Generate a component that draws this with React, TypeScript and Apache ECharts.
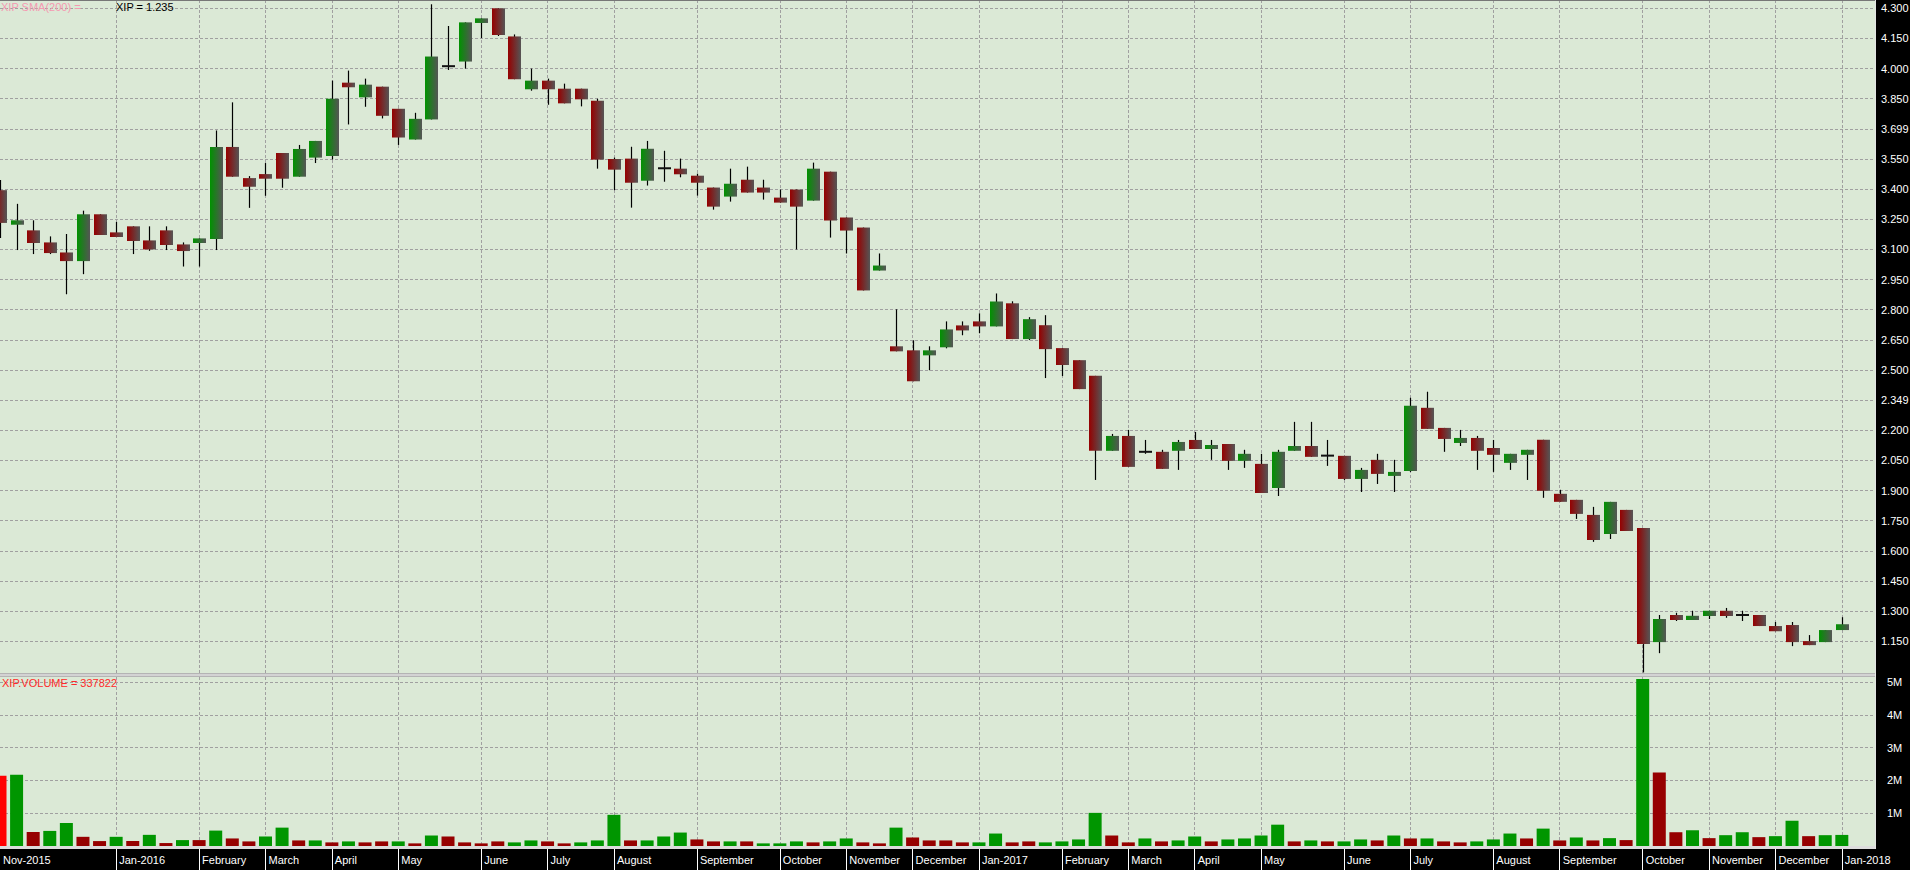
import React, { useEffect, useRef } from 'react';
import * as echarts from 'echarts';

// ---- data (weekly bars, XIP) ----
const slotCount = 114; // 112 weekly bars + 2 empty slots on the right
const opens = [
  3.395, 3.223, 3.195, 3.135, 3.085, 3.042, 3.275, 3.185, 3.215, 3.145,
  3.195, 3.125, 3.132, 3.152, 3.610, 3.455, 3.475, 3.580, 3.462, 3.557,
  3.565, 3.930, 3.857, 3.910, 3.800, 3.647, 3.747, 4.012, 4.035, 4.227,
  4.300, 4.160, 3.897, 3.940, 3.900, 3.900, 3.840, 3.550, 3.552, 3.442,
  3.504, 3.502, 3.467, 3.408, 3.363, 3.447, 3.408, 3.358, 3.398, 3.343,
  3.487, 3.259, 3.209, 2.995, 2.618, 2.598, 2.573, 2.613, 2.722, 2.742,
  2.717, 2.832, 2.654, 2.723, 2.609, 2.549, 2.471, 2.098, 2.172, 2.093,
  2.093, 2.098, 2.152, 2.107, 2.132, 2.048, 2.033, 1.913, 2.098, 2.122,
  2.074, 2.073, 1.958, 2.053, 1.973, 1.998, 2.312, 2.212, 2.137, 2.162,
  2.112, 2.038, 2.078, 2.153, 1.884, 1.854, 1.779, 1.684, 1.804, 1.714,
  1.146, 1.281, 1.256, 1.276, 1.302, 1.281, 1.281, 1.226, 1.231, 1.151,
  1.146, 1.206,
];
const closes = [
  3.232, 3.245, 3.132, 3.082, 3.042, 3.275, 3.172, 3.162, 3.142, 3.100,
  3.122, 3.092, 3.155, 3.610, 3.462, 3.412, 3.452, 3.452, 3.600, 3.640,
  3.850, 3.907, 3.920, 3.765, 3.657, 3.750, 4.060, 4.012, 4.230, 4.250,
  4.167, 3.947, 3.940, 3.897, 3.827, 3.847, 3.547, 3.497, 3.432, 3.601,
  3.504, 3.474, 3.432, 3.313, 3.427, 3.383, 3.383, 3.333, 3.313, 3.502,
  3.244, 3.194, 2.896, 3.020, 2.593, 2.444, 2.598, 2.702, 2.697, 2.717,
  2.841, 2.654, 2.753, 2.604, 2.525, 2.405, 2.098, 2.172, 2.018, 2.093,
  2.008, 2.142, 2.107, 2.127, 2.048, 2.083, 1.888, 2.093, 2.122, 2.068,
  2.074, 1.958, 2.003, 1.983, 1.993, 2.322, 2.207, 2.157, 2.162, 2.098,
  2.078, 2.083, 2.103, 1.899, 1.844, 1.784, 1.654, 1.844, 1.699, 1.136,
  1.261, 1.256, 1.277, 1.302, 1.276, 1.281, 1.226, 1.200, 1.146, 1.131,
  1.206, 1.235,
];
const lows = [
  3.157, 3.097, 3.077, 3.077, 2.877, 2.977, 3.172, 3.162, 3.077, 3.093,
  3.097, 3.015, 3.015, 3.097, 3.462, 3.307, 3.367, 3.407, 3.462, 3.530,
  3.548, 3.722, 3.810, 3.752, 3.620, 3.647, 3.747, 3.993, 4.000, 4.152,
  4.162, 3.947, 3.890, 3.820, 3.827, 3.812, 3.502, 3.395, 3.308, 3.418,
  3.437, 3.459, 3.368, 3.298, 3.338, 3.383, 3.348, 3.333, 3.100, 3.343,
  3.159, 3.080, 2.896, 2.995, 2.593, 2.444, 2.499, 2.608, 2.673, 2.683,
  2.717, 2.654, 2.649, 2.460, 2.470, 2.405, 1.953, 2.098, 2.018, 2.083,
  2.008, 2.003, 2.107, 2.053, 2.003, 2.013, 1.888, 1.873, 2.098, 2.068,
  2.023, 1.953, 1.893, 1.933, 1.893, 1.993, 2.207, 2.093, 2.122, 2.003,
  1.993, 2.003, 1.953, 1.864, 1.844, 1.759, 1.645, 1.659, 1.699, 0.995,
  1.091, 1.251, 1.256, 1.261, 1.267, 1.251, 1.226, 1.200, 1.126, 1.131,
  1.146, 1.206,
];
const highs = [
  3.445, 3.327, 3.245, 3.165, 3.177, 3.293, 3.275, 3.237, 3.215, 3.215,
  3.215, 3.135, 3.155, 3.692, 3.832, 3.465, 3.530, 3.580, 3.620, 3.640,
  3.940, 3.990, 3.950, 3.910, 3.800, 3.780, 4.320, 4.212, 4.230, 4.250,
  4.300, 4.170, 4.000, 3.950, 3.925, 3.900, 3.850, 3.557, 3.611, 3.640,
  3.591, 3.552, 3.477, 3.408, 3.502, 3.512, 3.447, 3.398, 3.398, 3.532,
  3.487, 3.259, 3.209, 3.080, 2.802, 2.648, 2.618, 2.742, 2.742, 2.782,
  2.881, 2.842, 2.763, 2.773, 2.609, 2.549, 2.471, 2.182, 2.202, 2.152,
  2.103, 2.152, 2.192, 2.152, 2.132, 2.103, 2.083, 2.103, 2.242, 2.242,
  2.152, 2.073, 2.013, 2.083, 2.053, 2.362, 2.392, 2.212, 2.202, 2.172,
  2.152, 2.083, 2.103, 2.153, 1.904, 1.854, 1.819, 1.844, 1.804, 1.714,
  1.281, 1.292, 1.302, 1.302, 1.316, 1.302, 1.281, 1.246, 1.246, 1.181,
  1.206, 1.270,
];
const volumes = [
  2140000, 2170000, 430000, 460000, 700000, 280000, 150000, 280000, 150000, 340000,
  90000, 180000, 180000, 470000, 230000, 140000, 290000, 560000, 170000, 170000,
  110000, 140000, 110000, 140000, 140000, 80000, 320000, 290000, 110000, 80000,
  140000, 110000, 170000, 140000, 80000, 110000, 170000, 950000, 170000, 170000,
  290000, 410000, 200000, 140000, 140000, 140000, 80000, 80000, 140000, 110000,
  140000, 230000, 110000, 80000, 560000, 260000, 170000, 170000, 110000, 110000,
  380000, 110000, 140000, 110000, 140000, 200000, 1010000, 320000, 110000, 230000,
  140000, 170000, 290000, 140000, 200000, 230000, 320000, 650000, 140000, 170000,
  140000, 140000, 200000, 170000, 320000, 230000, 230000, 140000, 110000, 140000,
  200000, 380000, 230000, 530000, 170000, 260000, 170000, 240000, 180000, 5090000,
  2240000, 420000, 480000, 240000, 330000, 420000, 270000, 300000, 770000, 300000,
  330000, 337822,
];
// R = selected bar (bright red), r = down, g = up
const volumeColors = [
  'Rgrggrrgrg', 'rgrgrrggrg', 'rgrrgrgrrr', 'rggrrgggrg', 'ggrrgrgggr',
  'ggrrgrrrrg', 'grrggggrrg', 'rggrggggrg', 'rggrgrgrrg', 'ggrgrgrgrg',
  'rrgrggrggr', 'gg',
].join('').split('');
const monthIndex = [0, 7, 12, 16, 20, 24, 29, 33, 37, 42, 47, 51, 55, 59, 64, 68, 72, 76, 81, 85, 90, 94, 99, 103, 107, 111];
const monthLabels = [
  'Nov-2015', 'Jan-2016', 'February', 'March', 'April', 'May', 'June', 'July', 'August', 'September',
  'October', 'November', 'December', 'Jan-2017', 'February', 'March', 'April', 'May', 'June', 'July',
  'August', 'September', 'October', 'November', 'December', 'Jan-2018',
];
const priceTicks = [1.15, 1.3, 1.45, 1.6, 1.75, 1.9, 2.05, 2.2, 2.35, 2.5, 2.65, 2.8, 2.95, 3.1, 3.25, 3.4, 3.55, 3.7, 3.85, 4.0, 4.15, 4.3];
const priceTickLabels = ['1.150', '1.300', '1.450', '1.600', '1.750', '1.900', '2.050', '2.200', '2.349', '2.500', '2.650', '2.800', '2.950', '3.100', '3.250', '3.400', '3.550', '3.699', '3.850', '4.000', '4.150', '4.300'];
const volumeTicks = [1000000, 2000000, 3000000, 4000000, 5000000];
const volumeTickLabels = ['1M', '2M', '3M', '4M', '5M'];
const titlePrice = 'XIP = 1.235';
const titleSma = 'XIP SMA(200) =';
const titleVolume = 'XIP.VOLUME = 337822';

const FONT = "'Liberation Sans', Arial, sans-serif";
const BG = '#dbe9d6';
const GRIDC = '#a0a0a0';

export default function App() {
  const ref = useRef<HTMLDivElement>(null);
  useEffect(() => {
    document.body.style.margin = '0';
    if (!ref.current) return;
    const chart = echarts.init(ref.current, null, { renderer: 'svg' });
    const cats = Array.from({ length: slotCount }, (_, i) => String(i));
    const monthSet = new Set(monthIndex);
    const labelOf = (i: number) => {
      const k = monthIndex.indexOf(i);
      return k >= 0 ? monthLabels[k] : '';
    };
    const redGrad = new echarts.graphic.LinearGradient(0, 0, 1, 0, [
      { offset: 0, color: '#960000' },
      { offset: 1, color: '#555555' },
    ]);
    const greenGrad = new echarts.graphic.LinearGradient(0, 0, 1, 0, [
      { offset: 0, color: '#009200' },
      { offset: 1, color: '#555555' },
    ]);
    const candleData = opens.map((o, i) => [i, o, closes[i], lows[i], highs[i]]);
    const volData = volumes.map((v, i) => ({
      value: v,
      itemStyle: { color: volumeColors[i] === 'R' ? '#ff0000' : volumeColors[i] === 'g' ? '#009600' : '#960000' },
    }));
    const dashed = { color: GRIDC, type: [3, 2] as any, width: 1 };

    const option: any = {
      animation: false,
      backgroundColor: '#000',
      textStyle: { fontFamily: FONT },
      grid: [
        { left: 0, top: 0, width: 1875, height: 673, show: true, backgroundColor: BG, borderWidth: 0 },
        { left: 0, top: 677, width: 1875, height: 169, show: true, backgroundColor: BG, borderWidth: 0 },
      ],
      xAxis: [
        {
          type: 'category', gridIndex: 0, data: cats, boundaryGap: false,
          axisLine: { show: false }, axisTick: { show: false }, axisLabel: { show: false },
          splitLine: { show: true, interval: (i: number) => i > 0 && monthSet.has(i), lineStyle: dashed },
        },
        {
          type: 'category', gridIndex: 1, data: cats, boundaryGap: false, position: 'bottom',
          axisLine: { show: false },
          axisTick: { show: true, interval: (i: number) => i > 0 && monthSet.has(i), length: 24, lineStyle: { color: '#ffffff', width: 1 } },
          axisLabel: {
            show: true, interval: (i: number) => monthSet.has(i),
            formatter: (_v: string, i: number) => labelOf(i),
            color: '#ffffff', fontSize: 11, align: 'left', margin: 8, padding: [0, 0, 0, 3], fontFamily: FONT,
          },
          splitLine: { show: true, interval: (i: number) => i > 0 && monthSet.has(i), lineStyle: dashed },
        },
      ],
      yAxis: [
        { type: 'value', gridIndex: 0, min: 0.9923, max: 4.3413, show: false },
        { type: 'value', gridIndex: 1, min: 0, max: 5152000, show: false },
      ],
      series: [
        {
          type: 'custom', xAxisIndex: 0, yAxisIndex: 0, z: 3, clip: true,
          encode: { x: 0, y: [1, 2, 3, 4] },
          data: candleData,
          renderItem: (_p: any, api: any) => {
            const i = api.value(0);
            const o = api.value(1), c = api.value(2), l = api.value(3), h = api.value(4);
            const po = api.coord([i, o]);
            const pc = api.coord([i, c]);
            const ph = api.coord([i, h]);
            const pl = api.coord([i, l]);
            const cx = Math.round(po[0]) + 0.5;
            const top = Math.min(po[1], pc[1]);
            const bot = Math.max(po[1], pc[1]);
            const children: any[] = [
              { type: 'line', shape: { x1: cx, y1: ph[1], x2: cx, y2: pl[1] }, style: { stroke: '#000', lineWidth: 1.2 } },
            ];
            if (bot - top < 2) {
              children.push({ type: 'rect', shape: { x: cx - 6.5, y: (top + bot) / 2 - 1, width: 13, height: 2 }, style: { fill: '#111' } });
            } else {
              children.push({ type: 'rect', shape: { x: cx - 6.5, y: top, width: 13, height: bot - top }, style: { fill: c > o ? greenGrad : redGrad } });
            }
            return { type: 'group', children };
          },
          markLine: {
            silent: true, z: 1, symbol: ['none', 'none'], animation: false,
            lineStyle: dashed,
            label: { show: true, position: 'end', distance: 6, formatter: '{b}', color: '#ffffff', fontSize: 11, fontFamily: FONT },
            emphasis: { disabled: true },
            data: priceTicks.map((v, k) => ({ yAxis: v, name: priceTickLabels[k] })),
          },
        },
        {
          type: 'bar', xAxisIndex: 1, yAxisIndex: 1, z: 3, barWidth: 13, clip: true,
          data: volData,
          markLine: {
            silent: true, z: 1, symbol: ['none', 'none'], animation: false,
            lineStyle: dashed,
            label: { show: true, position: 'end', distance: 12, formatter: '{b}', color: '#ffffff', fontSize: 11, fontFamily: FONT },
            emphasis: { disabled: true },
            data: volumeTicks.map((v, k) => ({ yAxis: v, name: volumeTickLabels[k] })),
          },
        },
      ],
      graphic: [
        { type: 'rect', z: 50, silent: true, shape: { x: 0, y: 0, width: 1875, height: 1 }, style: { fill: '#777777' } },
        { type: 'rect', z: 50, silent: true, shape: { x: 0, y: 673, width: 1876, height: 4 }, style: { fill: '#b4b4b4' } },
        { type: 'rect', z: 51, silent: true, shape: { x: 0, y: 674.4, width: 1876, height: 1.2 }, style: { fill: '#f2f2f2' } },
        { type: 'rect', z: 50, silent: true, shape: { x: 0, y: 846, width: 1876, height: 3 }, style: { fill: '#dcdcdc' } },
        { type: 'rect', z: 50, silent: true, shape: { x: 1875, y: 0, width: 1, height: 849 }, style: { fill: '#e4e4e4' } },
        { type: 'text', z: 60, silent: true, x: 1, y: 7, style: { text: titleSma, fill: '#f59ab2', font: `11px ${FONT}`, textVerticalAlign: 'middle' } },
        { type: 'text', z: 60, silent: true, x: 116, y: 7, style: { text: titlePrice, fill: '#000000', font: `11px ${FONT}`, textVerticalAlign: 'middle' } },
        { type: 'text', z: 60, silent: true, x: 2, y: 683, style: { text: titleVolume, fill: '#ff2a2a', font: `11px ${FONT}`, textVerticalAlign: 'middle' } },
      ],
    };
    chart.setOption(option);
    return () => chart.dispose();
  }, []);
  return <div ref={ref} style={{ position: 'absolute', left: 0, top: 0, width: 1910, height: 870 }} />;
}
